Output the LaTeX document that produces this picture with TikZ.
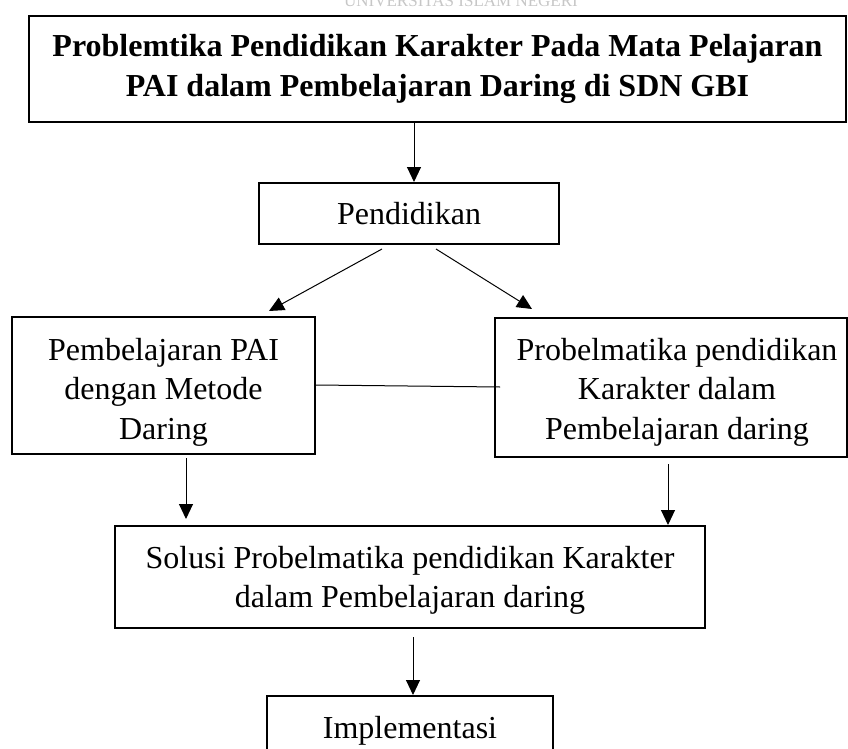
\documentclass[tikz,border=0pt]{standalone}
\usepackage{fontspec}
\setmainfont{Liberation Serif}
\usetikzlibrary{arrows.meta,calc}
\begin{document}
\begin{tikzpicture}[x=1pt,y=1pt,
  box/.style={draw,line width=2pt,fill=white,align=center,inner sep=0pt,font=\fontsize{32}{39.5}\selectfont},
  txt/.style={align=center,inner sep=0pt,font=\fontsize{32}{39.5}\selectfont},
  wm/.style={text=black!22,inner sep=0pt},
  arr/.style={line width=1pt,-{Triangle[length=15pt,width=14pt]}},
  conn/.style={line width=1pt}]
\useasboundingbox (0,0) rectangle (848,-749);
% faint watermark of the source page
\node[wm,font=\fontsize{17}{17}\selectfont,anchor=base] (wm1) at (461,-7) {UNIVERSITAS ISLAM NEGERI};
% boxes
\node[box,font=\bfseries\fontsize{32}{40}\selectfont,minimum width=817pt,minimum height=106pt] (top) at (437.5,-69)
  {Problemtika Pendidikan Karakter Pada Mata Pelajaran\\PAI dalam Pembelajaran Daring di SDN GBI};
\node[box,minimum width=300pt,minimum height=61pt] (pend) at (409,-213.5) {Pendidikan};
\node[box,minimum width=303pt,minimum height=137pt] (left) at (163.5,-385.5) {};
\node[txt] (lefttxt) at (163.5,-392) {Pembelajaran PAI\\dengan Metode\\Daring};
\node[box,minimum width=352pt,minimum height=139pt] (right) at (671,-387.5) {};
\node[txt] (righttxt) at (677,-392) {Probelmatika pendidikan\\Karakter dalam\\Pembelajaran daring};
\node[box,minimum width=590pt,minimum height=102pt] (sol) at (410,-577) {};
\node[txt] (soltxt) at (410,-580.5) {Solusi Probelmatika pendidikan Karakter\\dalam Pembelajaran daring};
\node[box,minimum width=286pt,minimum height=70pt,text height=22pt,text depth=7pt] (impl) at (410,-731) {Implementasi};
% connector end points
\coordinate (cx1) at (414,0);
\coordinate (d1s) at (382,-249);
\coordinate (d1e) at (269,-311);
\coordinate (d2s) at (436,-249);
\coordinate (d2e) at (532,-309);
\coordinate (lk1) at (0,-385);
\coordinate (lk2) at (500,-387);
\coordinate (l1s) at (186,-458);
\coordinate (l2s) at (668,-464);
\coordinate (s1s) at (413,-637);
% connectors
\draw[arr] (top.south -| cx1) -- (pend.north -| cx1);
\draw[arr] (d1s) -- (d1e);
\draw[arr] (d2s) -- (d2e);
\draw[conn] (left.east |- lk1) -- (lk2);
\draw[arr,shorten >=6pt] (l1s) -- (sol.north -| l1s);
\draw[arr] (l2s) -- (sol.north -| l2s);
\draw[arr] (s1s) -- (impl.north -| s1s);
\end{tikzpicture}
\end{document}
